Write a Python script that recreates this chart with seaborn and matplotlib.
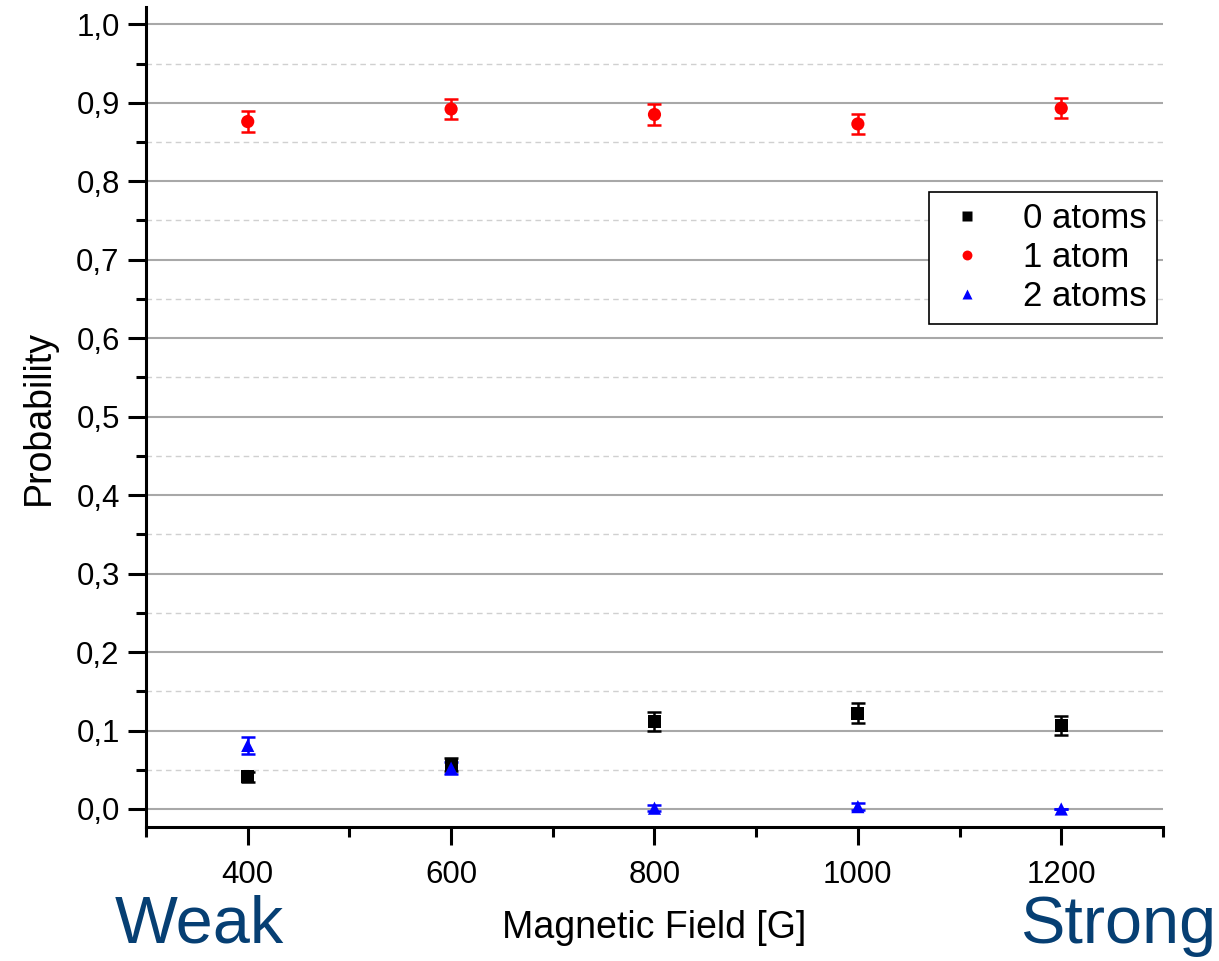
import numpy as np
import pandas as pd
import matplotlib
matplotlib.use("Agg")
import matplotlib.pyplot as plt
import seaborn as sns
from matplotlib.ticker import MultipleLocator, FuncFormatter

# ---- data ----
fields = [400, 600, 800, 1000, 1200]
p0 = [0.041, 0.057, 0.112, 0.122, 0.106]
e0 = [0.006, 0.008, 0.012, 0.013, 0.012]
p1 = [0.876, 0.892, 0.885, 0.873, 0.893]
e1 = [0.013, 0.013, 0.013, 0.013, 0.013]
p2 = [0.081, 0.052, 0.001, 0.003, 0.000]
e2 = [0.011, 0.008, 0.004, 0.004, 0.000]
series_names = ["0 atoms", "1 atom", "2 atoms"]
x_ticks = [400, 600, 800, 1000, 1200]

df = pd.DataFrame({
    "field": fields * 3,
    "prob": p0 + p1 + p2,
    "err": e0 + e1 + e2,
    "series": [series_names[0]] * 5 + [series_names[1]] * 5 + [series_names[2]] * 5,
})

sns.set_style("white")
plt.rcParams["font.family"] = ["Liberation Sans", "DejaVu Sans"]
plt.rcParams["text.color"] = "black"
plt.rcParams["axes.labelcolor"] = "black"
plt.rcParams["xtick.color"] = "black"
plt.rcParams["ytick.color"] = "black"

fig = plt.figure(figsize=(12.19, 9.61), dpi=100)
ax = fig.add_axes([0.1198, 0.1394, 0.8342, 0.8533])

palette = {"0 atoms": "black", "1 atom": "#ff0000", "2 atoms": "#0000ff"}
markers = {"0 atoms": "s", "1 atom": "o", "2 atoms": "^"}

for name in series_names:
    sub = df[df["series"] == name]
    ax.errorbar(sub["field"], sub["prob"], yerr=sub["err"], fmt="none",
                ecolor=palette[name], elinewidth=1.8, capsize=5, capthick=1.8, zorder=3)

sns.scatterplot(data=df, x="field", y="prob", hue="series", style="series",
                palette=palette, markers=markers, s=90, edgecolor="none",
                ax=ax, zorder=4, legend=True)

ax.set_xlim(300, 1300)
ax.set_ylim(-0.023, 1.022)

ax.set_xticks(x_ticks)
ax.set_xticklabels([str(v) for v in x_ticks])
ax.xaxis.set_minor_locator(MultipleLocator(100))
ax.yaxis.set_major_locator(MultipleLocator(0.1))
ax.yaxis.set_minor_locator(MultipleLocator(0.05))
ax.yaxis.set_major_formatter(FuncFormatter(lambda v, p: f"{v:.1f}".replace(".", ",")))

ax.grid(True, which="major", axis="y", color="#a8a8a8", linewidth=1.5, linestyle="-")
ax.grid(True, which="minor", axis="y", color="#d0d0d0", linewidth=1.0, linestyle=(0, (4, 3)))
ax.grid(False, axis="x", which="both")
ax.set_axisbelow(True)

for s in ["top", "right"]:
    ax.spines[s].set_visible(False)
for s in ["left", "bottom"]:
    ax.spines[s].set_linewidth(2.2)
    ax.spines[s].set_color("black")

ax.tick_params(axis="both", which="major", direction="out", length=13, width=2.2,
               labelsize=22.5, color="black", left=True, bottom=True)
ax.tick_params(axis="y", which="major", pad=6)
ax.tick_params(axis="x", which="major", pad=11)
ax.tick_params(axis="both", which="minor", direction="out", length=7, width=2.2,
               color="black", left=True, bottom=True)

ax.set_xlabel("Magnetic Field [G]", fontsize=27, labelpad=14)
ax.set_ylabel("Probability", fontsize=27, labelpad=14)

handles, labels = ax.get_legend_handles_labels()
leg = ax.legend(handles, labels, loc="upper right", bbox_to_anchor=(0.994, 0.775),
                borderaxespad=0, fontsize=25, frameon=True, fancybox=False,
                framealpha=1, edgecolor="black", handletextpad=0.8, markerscale=0.75,
                borderpad=0.3, labelspacing=0.18, handlelength=1.6)
leg.get_frame().set_linewidth(1.2)

fig.text(0.094, 0.019, "Weak", color="#063f73", fontsize=48, ha="left", va="baseline")
fig.text(0.998, 0.019, "Strong", color="#063f73", fontsize=48, ha="right", va="baseline")

fig.savefig("out.png", dpi=100)
